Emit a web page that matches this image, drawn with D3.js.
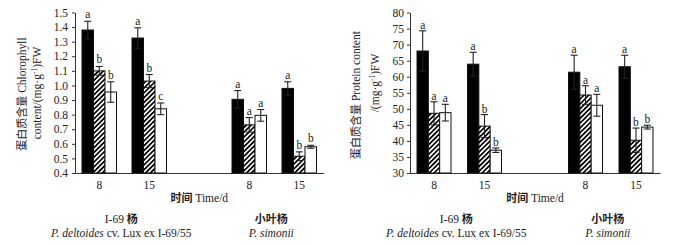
<!DOCTYPE html>
<html><head><meta charset="utf-8">
<script src="https://cdn.jsdelivr.net/npm/d3@7"></script>
<style>
body{margin:0;background:#fff;}
svg text{font-family:"Liberation Serif","Times New Roman","Noto Sans CJK SC",serif;fill:#222;}
</style></head>
<body><svg id="c" width="675" height="245"></svg>
<script>
// ---- data ----
const slots = ["I-69|8","I-69|15","gap","simonii|8","simonii|15"];
const dayLabels = ["8","15","","8","15"];
const treatments = ["CK","T1","T2"];
const speciesCN = ["I-69 杨","小叶杨"];
const speciesLatin = [["P. deltoides"," cv. Lux ex  I-69/55"],["P. simonii",""]];
const groupKeys = ["I-69|8","I-69|15","simonii|8","simonii|15"];

const chlCK = [1.38, 1.325, 0.905, 0.98];
const chlT1 = [1.10, 1.03, 0.73, 0.515];
const chlT2 = [0.955, 0.84, 0.795, 0.58];
const chlErrCK = [0.06, 0.07, 0.06, 0.045];
const chlErrT1 = [0.03, 0.045, 0.05, 0.03];
const chlErrT2 = [0.07, 0.04, 0.04, 0.01];
const chlLetCK = ["a","a","a","a"];
const chlLetT1 = ["b","b","a","b"];
const chlLetT2 = ["b","c","a","b"];
const chlTicks = [0.4,0.5,0.6,0.7,0.8,0.9,1.0,1.1,1.2,1.3,1.4,1.5];

const proCK = [68.0, 63.9, 61.4, 63.1];
const proT1 = [48.6, 44.6, 54.3, 40.2];
const proT2 = [48.8, 37.1, 51.1, 44.3];
const proErrCK = [6.3, 3.7, 5.3, 3.6];
const proErrT1 = [3.6, 3.6, 2.9, 3.8];
const proErrT2 = [2.6, 0.7, 3.4, 0.6];
const proLetCK = ["a","a","a","a"];
const proLetT1 = ["a","b","a","b"];
const proLetT2 = ["a","b","a","b"];
const proTicks = [30,35,40,45,50,55,60,65,70,75,80];

const svg = d3.select("#c");
const defs = svg.append("defs");
const pat = defs.append("pattern").attr("id","hatch").attr("patternUnits","userSpaceOnUse")
  .attr("width",3.4).attr("height",3.4).attr("patternTransform","rotate(45)");
pat.append("rect").attr("width",3.4).attr("height",3.4).attr("fill","#fff");
pat.append("rect").attr("width",1.7).attr("height",3.4).attr("fill","#000");

const fills = {CK:"#000", T1:"url(#hatch)", T2:"#fff"};

function panel(cfg){
  const g = svg.append("g");
  const x = d3.scaleBand().domain(slots).range(cfg.xr).paddingInner(cfg.pi).paddingOuter(cfg.po);
  const xi = d3.scaleBand().domain(treatments).range([0, x.bandwidth()]);
  const y = d3.scaleLinear().domain(cfg.dom).range([173, 12.5]);

  // y axis
  const ya = g.append("g").attr("transform",`translate(${cfg.xr[0]},0)`)
    .call(d3.axisLeft(y).tickValues(cfg.ticks).tickFormat(cfg.fmt).tickSize(3).tickSizeOuter(0).tickPadding(cfg.tp));
  ya.selectAll("text").attr("font-size",11.5).attr("font-family",'"Liberation Serif",serif').attr("fill","#222");
  ya.selectAll("line,path").attr("stroke","#333");

  // x axis
  const xa = g.append("g").attr("transform","translate(0,173)")
    .call(d3.axisBottom(x).tickSize(0).tickPadding(8).tickSizeOuter(0).tickFormat((d,i)=>dayLabels[i]));
  xa.selectAll("text").attr("font-size",11.5).attr("font-family",'"Liberation Serif",serif').attr("fill","#222");
  xa.select("path").attr("stroke","#333");

  const series = [
    {t:"CK", v:cfg.ck, e:cfg.eck, l:cfg.lck},
    {t:"T1", v:cfg.t1, e:cfg.et1, l:cfg.lt1},
    {t:"T2", v:cfg.t2, e:cfg.et2, l:cfg.lt2}
  ];
  const data = [];
  series.forEach(s=>groupKeys.forEach((k,i)=>data.push({k, t:s.t, v:s.v[i], e:s.e[i], l:s.l[i]})));

  const bars = g.append("g");
  bars.selectAll("rect").data(data).join("rect")
    .attr("x",d=>x(d.k)+xi(d.t)).attr("width",xi.bandwidth())
    .attr("y",d=>y(d.v)).attr("height",d=>y(cfg.dom[0])-y(d.v))
    .attr("fill",d=>fills[d.t]).attr("stroke","#111").attr("stroke-width",1);

  const cw = 3.5;
  const eb = g.append("g").attr("stroke","#222").attr("stroke-width",1.1);
  data.forEach(d=>{
    const cx = x(d.k)+xi(d.t)+xi.bandwidth()/2;
    const top = y(d.v+d.e), bot = y(d.v-d.e);
    eb.append("line").attr("x1",cx).attr("x2",cx).attr("y1",top).attr("y2",bot);
    eb.append("line").attr("x1",cx-cw).attr("x2",cx+cw).attr("y1",top).attr("y2",top);
    eb.append("line").attr("x1",cx-cw).attr("x2",cx+cw).attr("y1",bot).attr("y2",bot);
  });
  g.append("g").selectAll("text").data(data).join("text")
    .attr("x",d=>x(d.k)+xi(d.t)+xi.bandwidth()/2)
    .attr("y",d=>y(d.v+d.e)-cfg.lg)
    .attr("text-anchor","middle").attr("font-size",11.5).text(d=>d.l);

  // y label
  const yl = g.append("text").attr("transform",`translate(${cfg.yl1[0]},${cfg.yl1[1]}) rotate(-90)`)
    .attr("text-anchor","middle").attr("font-size",11.5);
  yl.append("tspan").text(cfg.ylab1cn).attr("font-family",'"Noto Sans CJK SC",sans-serif').attr("font-size",11);
  yl.append("tspan").text(cfg.ylab1en);
  const yl2 = g.append("text").attr("transform",`translate(${cfg.yl2[0]},${cfg.yl2[1]}) rotate(-90)`)
    .attr("text-anchor","middle").attr("font-size",11.5);
  yl2.append("tspan").text(cfg.ylab2a);
  yl2.append("tspan").text("-1").attr("font-size",7.5).attr("dy",-4);
  yl2.append("tspan").text(cfg.ylab2b).attr("dy",4);

  // x title
  const xm = (cfg.xr[0]+cfg.xr[1])/2;
  const xt = g.append("text").attr("x",xm).attr("y",202).attr("text-anchor","middle").attr("font-size",11.5);
  xt.append("tspan").text("时间").attr("font-family",'"Noto Sans CJK SC",sans-serif').attr("font-size",11).attr("font-weight","bold");
  xt.append("tspan").text(" Time/d");

  // species labels
  [[0,1],[3,4]].forEach((pair,si)=>{
    const cx = (x(slots[pair[0]])+x(slots[pair[1]]))/2 + x.bandwidth()/2 - 3;
    const t1 = g.append("text").attr("x",cx).attr("y",223).attr("text-anchor","middle").attr("font-size",11.5);
    const parts = speciesCN[si].split(" ");
    if(parts.length>1){
      t1.append("tspan").text(parts[0]+" ");
      t1.append("tspan").text(parts[1]).attr("font-family",'"Noto Sans CJK SC",sans-serif').attr("font-weight","bold").attr("font-size",11);
    } else {
      t1.append("tspan").text(parts[0]).attr("font-family",'"Noto Sans CJK SC",sans-serif').attr("font-weight","bold").attr("font-size",11);
    }
    const t2 = g.append("text").attr("x",cx).attr("y",237).attr("text-anchor","middle").attr("font-size",11.5);
    t2.append("tspan").text(speciesLatin[si][0]).attr("font-style","italic");
    if(speciesLatin[si][1]) t2.append("tspan").text(speciesLatin[si][1]);
  });
}

panel({xr:[75,323.5], pi:0.31, po:0.14, dom:[0.4,1.5], ticks:chlTicks, fmt:d3.format(".1f"), tp:4,
  ck:chlCK,t1:chlT1,t2:chlT2,eck:chlErrCK,et1:chlErrT1,et2:chlErrT2,lck:chlLetCK,lt1:chlLetT1,lt2:chlLetT2, lg:3,
  ylab1cn:"蛋白质含量", ylab1en:" Chlorophyll", ylab2a:"content/(mg·g", ylab2b:")FW",
  yl1:[26,94], yl2:[41,93]});
panel({xr:[410,660], pi:0.327, po:0.139, dom:[30,80], ticks:proTicks, fmt:d3.format("d"), tp:3,
  ck:proCK,t1:proT1,t2:proT2,eck:proErrCK,et1:proErrT1,et2:proErrT2,lck:proLetCK,lt1:proLetT1,lt2:proLetT2, lg:2,
  ylab1cn:"蛋白质含量", ylab1en:" Protein content", ylab2a:"/(mg·g", ylab2b:")FW",
  yl1:[360,95], yl2:[379,83]});
</script></body></html>
